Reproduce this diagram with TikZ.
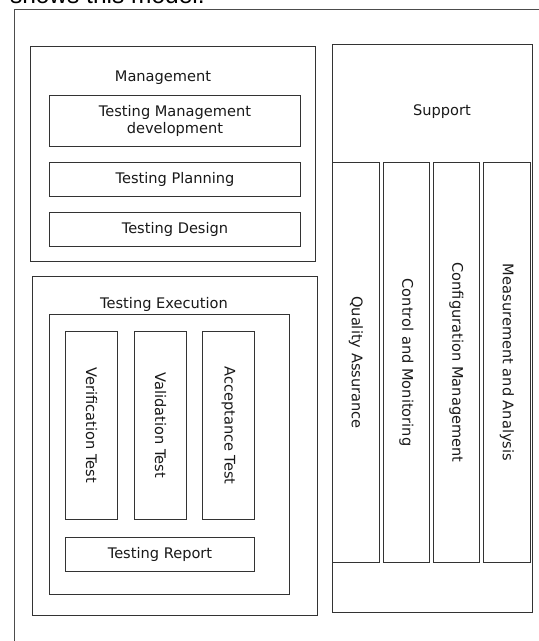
\documentclass[tikz,border=0pt]{standalone}
\usepackage{fontspec}
\setmainfont{DejaVu Sans}
\newfontfamily\docfont{Liberation Sans}
\begin{document}
\begin{tikzpicture}[x=1pt,y=-1pt,
  box/.style={draw=black!80, line width=1pt, inner sep=0pt, anchor=north west},
  lbl/.style={inner sep=0pt, font=\fontsize{14.6}{17.5}\selectfont, text=black!90, align=center},
  vlbl/.style={inner sep=0pt, font=\fontsize{14.6}{17.5}\selectfont, text=black!90, rotate=-90}]
\useasboundingbox (0,0) rectangle (539,641);
\fill[white] (0,0) rectangle (539,641);
% clipped text fragment at the very top
\begin{scope}
\clip (0,0) rectangle (539,8);
\node[inner sep=0pt, outer sep=0pt, anchor=south west, font=\docfont\fontsize{24.5}{28}\selectfont] (frag) at (10,4) {shows this model.};
\end{scope}
% outer frame
\coordinate (fTL) at (14,9);
\coordinate (fTR) at (545,9);
\coordinate (fBL) at (14,650);
\draw[black!70, line width=1pt] (fTR) -- (fTL) -- (fBL);
% Management
\node[box, minimum width=285pt, minimum height=215pt] (mgmt) at (30,46) {};
\node[lbl] (mgmtl) at (163,78) {Management};
\node[box, minimum width=251pt, minimum height=51pt, lbl, anchor=north west] (tmd) at (49,95) {Testing Management\\development};
\node[box, minimum width=251pt, minimum height=34pt, lbl, anchor=north west] (tp) at (49,162) {Testing Planning};
\node[box, minimum width=251pt, minimum height=34pt, lbl, anchor=north west] (td) at (49,212) {Testing Design};
% Testing Execution
\node[box, minimum width=285pt, minimum height=339pt] (te) at (32,276) {};
\node[lbl] (tel) at (164,304) {Testing Execution};
\node[box, minimum width=240pt, minimum height=280pt] (tei) at (49,314) {};
\node[box, minimum width=52pt, minimum height=188pt] (ver) at (65,331) {};
\node[vlbl] at (ver.center) {Verification Test};
\node[box, minimum width=52pt, minimum height=188pt] (val) at (134,331) {};
\node[vlbl] at (val.center) {Validation Test};
\node[box, minimum width=52pt, minimum height=188pt] (acc) at (202,331) {};
\node[vlbl] at (acc.center) {Acceptance Test};
\node[box, minimum width=189pt, minimum height=34pt, lbl, anchor=north west] (tr) at (65,537) {Testing Report};
% Support
\node[box, minimum width=200pt, minimum height=568pt] (sup) at (332,44) {};
\node[lbl] (supl) at (442,112) {Support};
\node[box, minimum width=47pt, minimum height=400pt] (qa) at (332,162) {};
\node[vlbl] at (qa.center) {Quality Assurance};
\node[box, minimum width=46pt, minimum height=400pt] (cm) at (383,162) {};
\node[vlbl] at (cm.center) {Control and Monitoring};
\node[box, minimum width=46pt, minimum height=400pt] (cfm) at (433,162) {};
\node[vlbl] at (cfm.center) {Configuration Management};
\node[box, minimum width=47pt, minimum height=400pt] (ma) at (483,162) {};
\node[vlbl] at (ma.center) {Measurement and Analysis};
\end{tikzpicture}
\end{document}
